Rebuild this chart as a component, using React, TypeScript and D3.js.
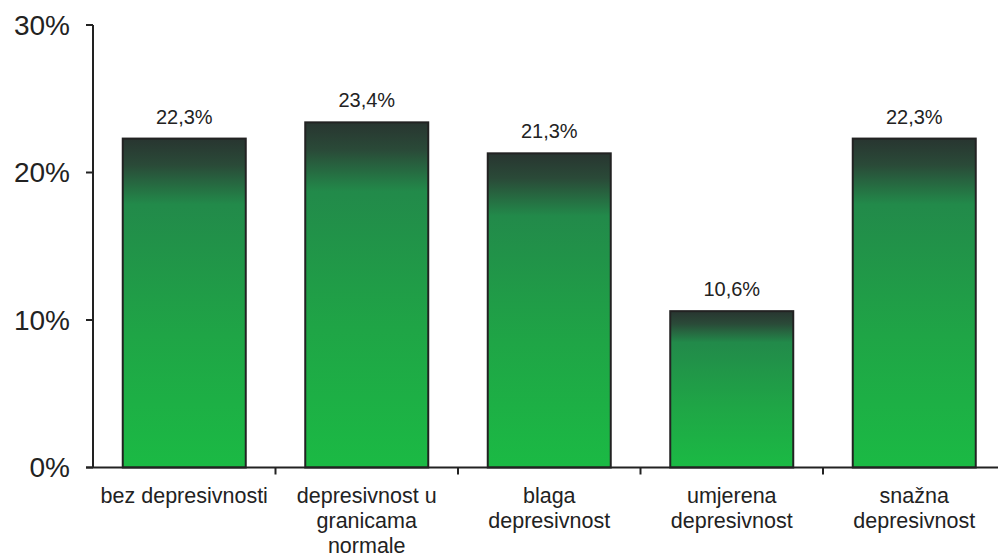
import React from "react";
import * as d3 from "d3";

const categories: string[][] = [
  ["bez depresivnosti"],
  ["depresivnost u", "granicama", "normale"],
  ["blaga", "depresivnost"],
  ["umjerena", "depresivnost"],
  ["snažna", "depresivnost"],
];
const values: number[] = [22.3, 23.4, 21.3, 10.6, 22.3];
const valueLabels: string[] = ["22,3%", "23,4%", "21,3%", "10,6%", "22,3%"];
const yTicks: number[] = [0, 10, 20, 30];

const W = 998;
const H = 558;
const x0 = 93;
const x1 = 1005.5;
const y0 = 467.5;
const y1 = 25;

export default function App() {
  const idx = categories.map((_, i) => String(i));
  const x = d3.scaleBand<string>().domain(idx).range([x0, x1]).paddingInner(0.326).paddingOuter(0.163);
  const y = d3.scaleLinear().domain([0, 30]).range([y0, y1]);
  const step = x.step();
  const boundaries = d3.range(1, categories.length).map((i) => x0 + i * step);
  const font = "Liberation Sans, Arial, sans-serif";
  return (
    <svg width={W} height={H} style={{ position: "absolute", left: 0, top: 0, background: "#fff" }} fontFamily={font}>
      <defs>
        <linearGradient id="barGrad" x1="0" y1="0" x2="0" y2="1">
          <stop offset="0" stopColor="#283530" />
          <stop offset="0.08" stopColor="#2a4a38" />
          <stop offset="0.2" stopColor="#228a4a" />
          <stop offset="0.6" stopColor="#1fa546" />
          <stop offset="1" stopColor="#1bba44" />
        </linearGradient>
      </defs>
      {values.map((v, i) => {
        const bx = x(String(i))!;
        const by = y(v);
        return (
          <g key={i}>
            <rect x={bx} y={by} width={x.bandwidth()} height={y0 - by} fill="url(#barGrad)" stroke="#222" strokeWidth={2} />
            <text x={bx + x.bandwidth() / 2} y={by - 15} textAnchor="middle" fontSize={20} fill="#222">
              {valueLabels[i]}
            </text>
            <text x={bx + x.bandwidth() / 2} y={503} textAnchor="middle" fontSize={21.5} fill="#222">
              {categories[i].map((line, j) => (
                <tspan key={j} x={bx + x.bandwidth() / 2} dy={j === 0 ? 0 : 25}>
                  {line}
                </tspan>
              ))}
            </text>
          </g>
        );
      })}
      <line x1={x0} y1={y1} x2={x0} y2={y0} stroke="#222" strokeWidth={2} />
      <line x1={x0 - 7} y1={y0} x2={W} y2={y0} stroke="#222" strokeWidth={2} />
      {yTicks.map((t) => (
        <g key={t}>
          <line x1={x0 - 7} x2={x0} y1={y(t)} y2={y(t)} stroke="#222" strokeWidth={2} />
          <text x={70} y={y(t) + 9.5} textAnchor="end" fontSize={28} fill="#222">
            {t}%
          </text>
        </g>
      ))}
      {boundaries.map((b, i) => (
        <line key={i} x1={b} x2={b} y1={y0} y2={y0 + 7} stroke="#222" strokeWidth={2} />
      ))}
    </svg>
  );
}
